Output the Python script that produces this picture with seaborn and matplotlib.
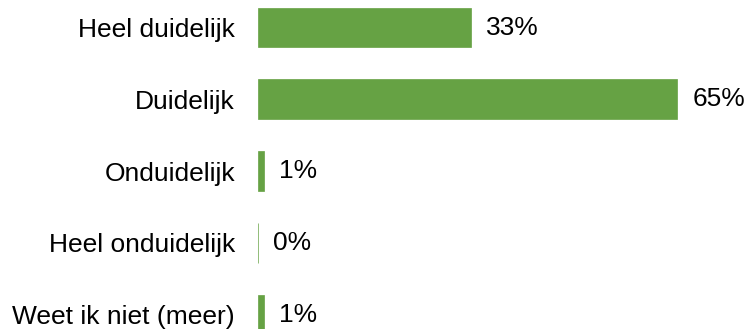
import matplotlib
matplotlib.use("Agg")
import matplotlib.pyplot as plt
import seaborn as sns
import pandas as pd

categories = ["Heel duidelijk", "Duidelijk", "Onduidelijk", "Heel onduidelijk", "Weet ik niet (meer)"]
values = [33, 65, 1, 0, 1]
value_labels = ["33%", "65%", "1%", "0%", "1%"]

bar_color = "#66A244"

sns.set_theme(style="white")
plt.rcParams["font.family"] = ["Liberation Sans", "DejaVu Sans"]

df = pd.DataFrame({"categorie": categories, "aandeel": values})

fig = plt.figure(figsize=(7.5, 3.29), dpi=100)
ax = fig.add_axes([258 / 750, 0.0, 1 - 258 / 750, 1.0])

sns.barplot(data=df, y="categorie", x="aandeel", orient="h", color=bar_color,
            saturation=1, width=0.557, edgecolor=bar_color, linewidth=0.5, ax=ax)

ax.set_xlim(0, (750 - 258) / 6.45)
ax.set_ylim(4.199, -0.383)

for i, (v, lab) in enumerate(zip(values, value_labels)):
    ax.annotate(lab, xy=(v, i), xytext=(10.8, 0), textcoords="offset points",
                va="center", ha="left", fontsize=19, color="#000000")

ax.set_xlabel("")
ax.set_ylabel("")
ax.set_xticks([])
ax.tick_params(axis="y", length=0, pad=16.5, labelsize=19, labelcolor="#000000")
for s in ax.spines.values():
    s.set_visible(False)

fig.savefig("out.png", dpi=100)
